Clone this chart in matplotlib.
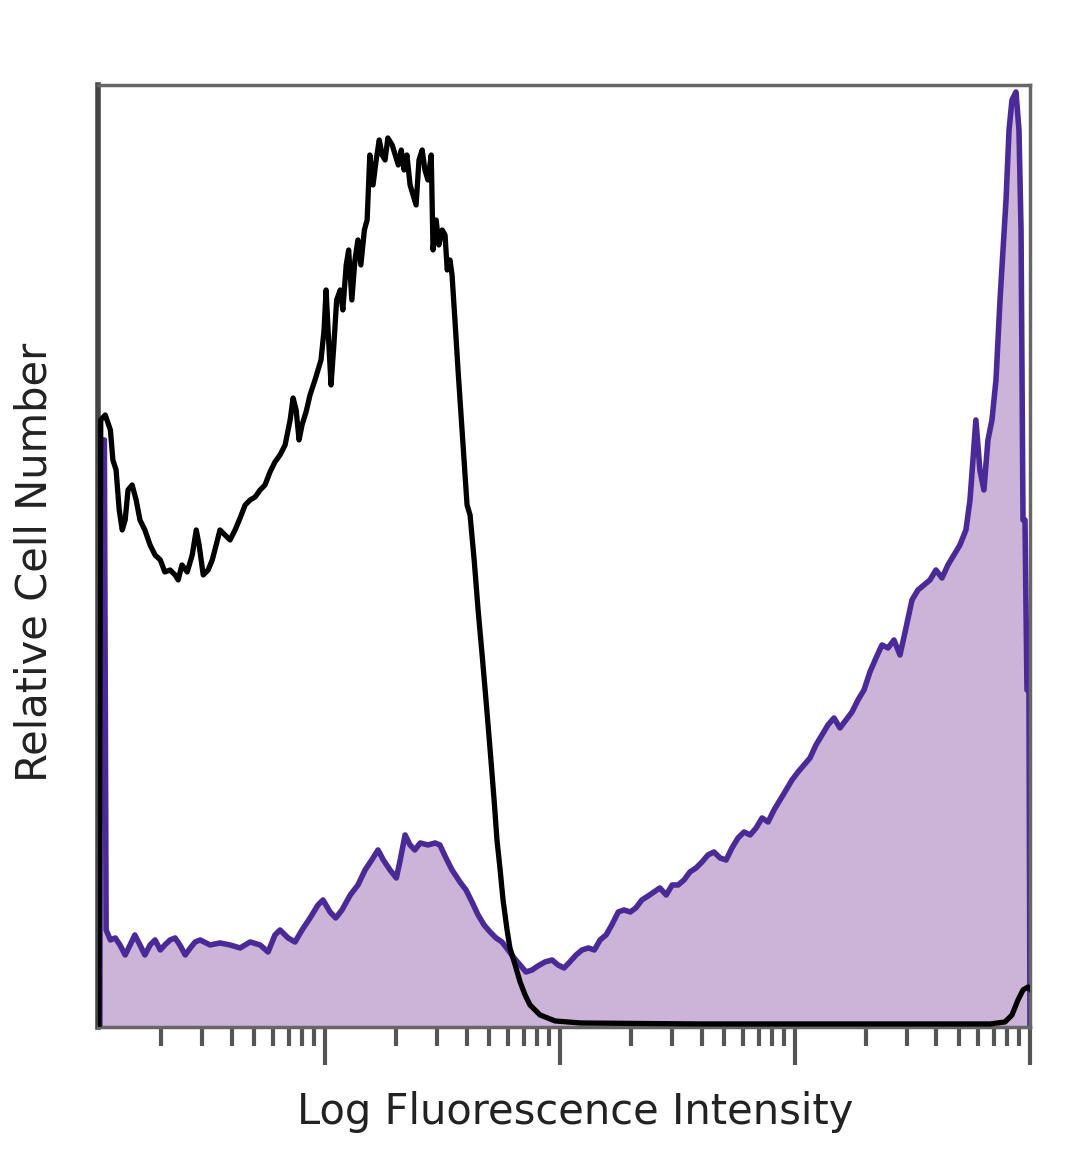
import numpy as np
import matplotlib.pyplot as plt

# black histogram (isotype), fluorescence intensity vs relative count
iso_x = [1.09, 1.11, 1.16, 1.22, 1.25, 1.29, 1.33, 1.37, 1.41, 1.45, 1.51, 1.57, 1.63, 1.71,
         1.80, 1.89, 1.99, 2.08, 2.19, 2.30, 2.37, 2.46, 2.59, 2.72, 2.83, 2.91, 3.03, 3.18,
         3.31, 3.44, 3.57, 3.75, 3.94, 4.14, 4.35, 4.57, 4.80, 5.04, 5.29, 5.55, 5.83, 6.12,
         6.43, 6.76, 7.10, 7.31, 7.53, 7.75, 7.98, 8.30, 8.63, 9.06, 9.33, 9.61, 9.90, 10.1,
         10.3, 10.6, 10.9, 11.2, 11.6, 11.9, 12.3, 12.6, 13.0, 13.4, 13.8, 14.2, 14.7, 15.1,
         15.5, 16.0, 16.5, 17.0, 17.5, 18.0, 18.5, 19.3, 19.9, 20.5, 21.1, 21.7, 22.3, 23.0,
         23.7, 24.4, 25.1, 25.9, 26.6, 27.4, 28.3, 28.8, 29.7, 30.5, 31.5, 32.4, 33.1, 34.0,
         34.7, 35.7, 36.8, 37.9, 39.0, 40.2, 41.4, 43.1, 44.8, 46.6, 48.4, 50.4, 52.4, 53.9,
         55.6, 57.2, 59.5, 61.2, 64.4, 67.6, 71.0, 74.5, 82.2, 95.3, 122, 394, 2797, 6754,
         7826, 8383, 8890, 9338, 9808, 10000]
iso_y = [2, 607, 612, 597, 567, 557, 517, 497, 507, 537, 542, 527, 507, 497,
         482, 472, 467, 455, 457, 452, 447, 462, 455, 472, 497, 482, 452, 457,
         467, 482, 497, 492, 487, 497, 509, 522, 527, 530, 537, 542, 555, 565,
         572, 582, 607, 629, 617, 587, 602, 615, 632, 647, 657, 667, 697, 737,
         697, 642, 682, 727, 737, 717, 762, 777, 727, 767, 787, 762, 797, 807,
         872, 842, 867, 887, 872, 867, 889, 882, 872, 862, 877, 857, 872, 842,
         832, 822, 867, 877, 857, 847, 872, 777, 807, 782, 797, 792, 757, 767,
         752, 707, 657, 612, 567, 522, 512, 467, 417, 372, 327, 277, 227, 187,
         157, 127, 97, 79, 62, 45, 32, 22, 12, 6, 4, 3, 3, 3,
         5, 12, 27, 37, 40, 38]

# purple filled histogram (stained)
stain_x = [1.10, 1.11, 1.15, 1.17, 1.22, 1.28, 1.34, 1.41, 1.48, 1.55, 1.63, 1.71, 1.80, 1.89,
           1.99, 2.08, 2.19, 2.30, 2.41, 2.54, 2.67, 2.80, 2.94, 3.24, 3.57, 3.94, 4.35, 4.80,
           5.29, 5.72, 6.12, 6.43, 6.96, 7.45, 7.98, 8.63, 9.33, 9.80, 10.5, 11.1, 11.8, 12.8,
           13.8, 14.8, 15.8, 16.8, 17.7, 18.9, 20.1, 20.8, 21.9, 23.0, 24.1, 25.4, 27.4, 29.4,
           30.8, 32.7, 34.7, 37.5, 39.8, 42.2, 44.8, 47.5, 50.4, 53.4, 56.6, 60.1, 63.7, 67.6,
           71.6, 76.0, 80.5, 86.3, 92.5, 98.0, 104, 110, 117, 124, 132, 140, 148, 157,
           166, 177, 187, 199, 210, 223, 237, 251, 266, 283, 300, 318, 337, 357,
           379, 402, 426, 452, 480, 509, 539, 572, 607, 644, 683, 724, 768, 814,
           864, 916, 971, 1030, 1092, 1158, 1228, 1303, 1381, 1465, 1553, 1648, 1748, 1853,
           1966, 2084, 2211, 2344, 2487, 2637, 2797, 2966, 3146, 3336, 3538, 3752, 3979, 4220,
           4475, 4746, 5033, 5338, 5555, 5715, 5884, 6121, 6367, 6623, 6889, 7166, 7454, 7674,
           7906, 8143, 8383, 8717, 8977, 9160, 9338, 9523, 9709, 9900, 10000]
stain_y = [0, 587, 587, 97, 87, 89, 82, 72, 82, 92, 82, 72, 82, 87,
           77, 82, 87, 89, 82, 72, 79, 85, 87, 82, 84, 82, 79, 85,
           82, 75, 92, 97, 89, 85, 97, 109, 122, 127, 115, 109, 117, 132,
           142, 157, 167, 177, 167, 157, 149, 165, 192, 182, 177, 184, 182, 184,
           182, 169, 157, 145, 137, 125, 112, 102, 95, 89, 85, 77, 69, 62,
           55, 57, 61, 65, 67, 62, 59, 65, 72, 77, 79, 77, 87, 92,
           102, 115, 117, 115, 119, 127, 131, 135, 139, 132, 142, 142, 147, 155,
           159, 165, 172, 175, 169, 167, 179, 189, 195, 192, 199, 209, 205, 217,
           227, 237, 247, 255, 262, 269, 282, 292, 302, 309, 299, 307, 315, 327,
           337, 355, 369, 382, 379, 387, 372, 399, 427, 437, 442, 447, 457, 449,
           462, 472, 482, 497, 527, 567, 607, 557, 537, 587, 607, 647, 727, 777,
           827, 897, 927, 935, 897, 797, 507, 507, 337, 337, 0]

fig = plt.figure(figsize=(10.8, 11.69), dpi=100)
ax = fig.add_axes([0.0907, 0.1215, 0.863, 0.8058])

ax.fill_between(stain_x, stain_y, 0, color='#ccb3d8', lw=0, zorder=1)
ax.plot(stain_x, stain_y, color='#4a2a96', lw=4.0, zorder=2)
ax.plot(iso_x, iso_y, color='black', lw=3.8, zorder=3)

ax.set_xscale('log')
ax.set_xlim(1.08, 10000)
ax.set_ylim(0, 942)
ax.set_xticks([10, 100, 1000, 10000])
ax.set_xticklabels([])
ax.xaxis.set_minor_locator(plt.matplotlib.ticker.LogLocator(base=10, subs=np.arange(2, 10)))
ax.xaxis.set_minor_formatter(plt.NullFormatter())
ax.tick_params(axis='x', which='major', length=27, width=3, color='#555555', direction='out')
ax.tick_params(axis='x', which='minor', length=14, width=3, color='#555555', direction='out')
ax.set_yticks([])

for s in ['top', 'right', 'bottom']:
    ax.spines[s].set_color('#666666')
    ax.spines[s].set_linewidth(2.5)
ax.spines['left'].set_color('#444444')
ax.spines['left'].set_linewidth(4)

fig.text(0.533, 0.049, 'Log Fluorescence Intensity', ha='center', va='center',
         fontsize=30, color='#222222')
fig.text(0.032, 0.519, 'Relative Cell Number', ha='center', va='center',
         rotation=90, fontsize=30, color='#222222')

fig.savefig('out.png', dpi=100)
